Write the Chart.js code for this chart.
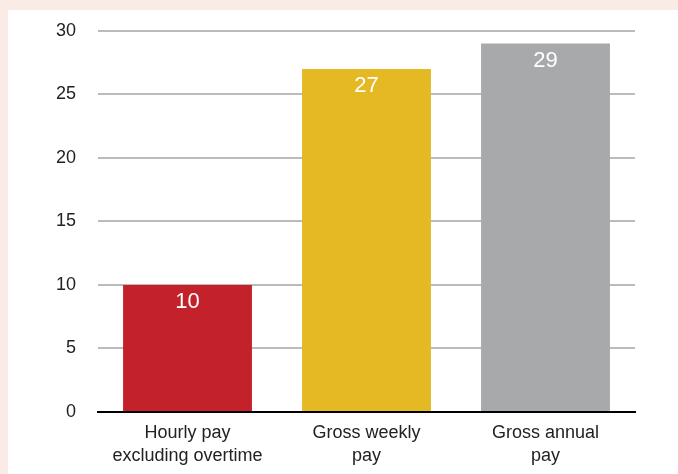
<!DOCTYPE html>
<html>
<head>
    <meta charset="utf-8">
    <script src="https://cdn.jsdelivr.net/npm/chart.js"></script>
    <style>
      * { margin: 0; padding: 0; }
      body { background: #fbebe6; width: 678px; height: 474px; overflow: hidden; }
      .panel {
        position: absolute;
        left: 8px; top: 10px;
        width: 670px; height: 464px;
        background: #fff;
        overflow: hidden;
      }
      .chartBox {
        position: absolute;
        left: 0; top: -12px;
        width: 670px; height: 480px;
      }
    </style>
</head>
<body>
    <div class="panel"><div class="chartBox"><canvas id="chart"></canvas></div></div>
<script>
    const categories = [['Hourly pay', 'excluding overtime'], ['Gross weekly', 'pay'], ['Gross annual', 'pay']];
    const values = [10, 27, 29];
    const barColors = ['#c4222a', '#e5b923', '#a8a9ab'];
    const yTicks = [0, 5, 10, 15, 20, 25, 30];

    // white value labels just inside the top of each bar
    const barLabels = {
        id: 'barLabels',
        afterDatasetsDraw(chart) {
            const ctx = chart.ctx;
            const meta = chart.getDatasetMeta(0);
            ctx.save();
            ctx.font = '22px "Liberation Sans", Arial, sans-serif';
            ctx.fillStyle = '#fff';
            ctx.textAlign = 'center';
            ctx.textBaseline = 'middle';
            meta.data.forEach((bar, i) => {
                ctx.fillText(values[i], bar.x, bar.y + 17);
            });
            ctx.restore();
        }
    };

    const chart = new Chart(document.getElementById('chart'), {
        type: 'bar',
        data: {
            labels: categories,
            datasets: [{
                data: values,
                backgroundColor: barColors,
                barPercentage: 0.72,
                categoryPercentage: 1.0
            }]
        },
        options: {
            responsive: true,
            maintainAspectRatio: false,
            animation: false,
            layout: { padding: { top: 2, right: 43, bottom: 0 } },
            plugins: { legend: { display: false }, tooltip: { enabled: false } },
            scales: {
                x: {
                    grid: { display: false, drawTicks: false },
                    border: { display: true, color: '#000', width: 2 },
                    ticks: {
                        color: '#222',
                        padding: 10,
                        maxRotation: 0,
                        font: { family: '"Liberation Sans", Arial, sans-serif', size: 18, lineHeight: 1.28 }
                    }
                },
                y: {
                    min: 0, max: 30,
                    afterFit: s => { s.width = 90; },
                    afterBuildTicks: s => { s.ticks = yTicks.map(v => ({ value: v })); },
                    grid: { color: '#bbbbbb', lineWidth: 2, drawTicks: false },
                    border: { display: false },
                    ticks: {
                        color: '#222',
                        padding: 22,
                        font: { family: '"Liberation Sans", Arial, sans-serif', size: 18 }
                    }
                }
            }
        },
        plugins: [barLabels]
    });
</script>
</body>
</html>
